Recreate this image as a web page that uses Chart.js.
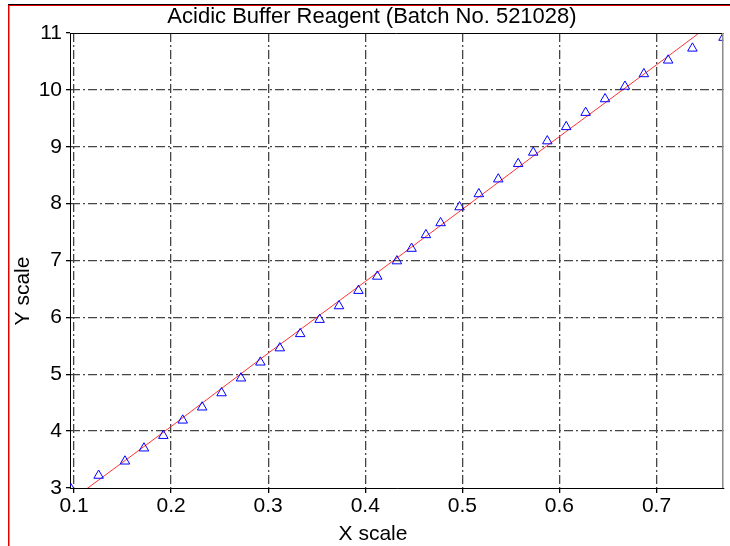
<!DOCTYPE html>
<html>
<head>
<meta charset="utf-8">
<script src="https://cdn.jsdelivr.net/npm/chart.js@4.4.1/dist/chart.umd.min.js"></script>
<style>
  html, body { margin: 0; padding: 0; background: #fff; }
  canvas { display: block; }
</style>
</head>
<body>
<canvas id="chart" width="730" height="546"></canvas>
<script>
// measured points (triangles)
const measX = [0.097, 0.1254, 0.1525, 0.1721, 0.192, 0.212, 0.232, 0.252, 0.272, 0.292, 0.312, 0.333,
    0.353, 0.373, 0.393, 0.4124, 0.4326, 0.4477, 0.4625, 0.4776, 0.4971, 0.517, 0.537, 0.5575,
    0.573, 0.5875, 0.607, 0.627, 0.647, 0.6675, 0.687, 0.712, 0.737, 0.769];
const measY = [2.98, 3.22, 3.47, 3.70, 3.92, 4.19, 4.42, 4.67, 4.93, 5.21, 5.46, 5.71,
    5.96, 6.20, 6.47, 6.72, 6.99, 7.21, 7.45, 7.66, 7.94, 8.17, 8.43, 8.70,
    8.90, 9.10, 9.35, 9.60, 9.84, 10.06, 10.28, 10.52, 10.73, 10.92];

// fitted curve (red line)
const fitX = [0.096, 0.2, 0.3, 0.4, 0.5, 0.6, 0.7, 0.769];
const fitY = [2.77, 4.08, 5.37, 6.63, 7.90, 9.18, 10.44, 11.32];

// tick labels
const xTicks = [0.1, 0.2, 0.3, 0.4, 0.5, 0.6, 0.7];
const yTicks = [3, 4, 5, 6, 7, 8, 9, 10, 11];

const titleText = 'Acidic Buffer Reagent (Batch No. 521028)';
const xTitle = 'X scale';
const yTitle = 'Y scale';

const FONT = '"Liberation Sans", Arial, sans-serif';

// frame, plot box and titles
const decorPlugin = {
    id: 'decor',
    afterDraw(chart) {
        const ctx = chart.ctx;
        const a = chart.chartArea;
        ctx.save();
        // outer frame
        ctx.lineWidth = 1;
        ctx.strokeStyle = '#000';
        ctx.beginPath(); ctx.moveTo(8, 4.5); ctx.lineTo(730, 4.5); ctx.stroke();
        ctx.strokeStyle = '#e00000';
        ctx.beginPath(); ctx.moveTo(8, 5.5); ctx.lineTo(730, 5.5); ctx.stroke();
        ctx.lineWidth = 1.5;
        ctx.beginPath(); ctx.moveTo(8.75, 5); ctx.lineTo(8.75, 546); ctx.stroke();
        // plot box top and right
        ctx.lineWidth = 1;
        ctx.strokeStyle = '#000';
        ctx.beginPath(); ctx.moveTo(a.left, a.top + 0.5); ctx.lineTo(a.right, a.top + 0.5); ctx.stroke();
        ctx.strokeStyle = '#8a8a8a';
        ctx.lineWidth = 1.5;
        ctx.beginPath(); ctx.moveTo(a.right - 0.75, a.top); ctx.lineTo(a.right - 0.75, a.bottom); ctx.stroke();
        // texts
        ctx.fillStyle = '#000';
        ctx.textAlign = 'center';
        ctx.textBaseline = 'middle';
        ctx.font = '22px ' + FONT;
        ctx.fillText(titleText, 372, 17);
        ctx.font = '21px ' + FONT;
        ctx.fillText(xTitle, 373, 534);
        ctx.translate(23, 291);
        ctx.rotate(-Math.PI / 2);
        ctx.fillText(yTitle, 0, 0);
        ctx.restore();
    }
};

const ctx = document.getElementById('chart').getContext('2d');
new Chart(ctx, {
    type: 'scatter',
    data: {
        datasets: [
            {
                label: 'Measured',
                data: measX.map((x, i) => ({ x: x, y: measY[i] })),
                pointStyle: 'triangle',
                pointRadius: 5.5,
                pointBorderColor: '#0000ff',
                pointBackgroundColor: 'rgba(0,0,0,0)',
                pointBorderWidth: 1,
                showLine: false
            },
            {
                label: 'Fit',
                data: fitX.map((x, i) => ({ x: x, y: fitY[i] })),
                showLine: true,
                borderColor: 'rgb(255,50,50)',
                borderWidth: 1,
                pointRadius: 0,
                tension: 0
            }
        ]
    },
    options: {
        responsive: false,
        animation: false,
        devicePixelRatio: 1,
        layout: { padding: { left: 0, right: 6, top: 33, bottom: 0 } },
        plugins: {
            legend: { display: false },
            title: { display: false },
            tooltip: { enabled: false }
        },
        scales: {
            x: {
                type: 'linear',
                min: 0.0959,
                max: 0.769,
                afterBuildTicks: scale => { scale.ticks = xTicks.map(v => ({ value: v })); },
                afterFit: scale => { scale.height = 58; },
                ticks: {
                    font: { family: FONT, size: 21 },
                    color: '#000',
                    padding: 1,
                    maxRotation: 0,
                    callback: v => v.toFixed(1)
                },
                grid: {
                    color: '#454545',
                    lineWidth: 1.3,
                    tickColor: '#000',
                    tickLength: 5
                },
                border: { color: '#000', width: 1, dash: [9, 3, 2, 3] }
            },
            y: {
                type: 'linear',
                min: 3,
                max: 11,
                afterBuildTicks: scale => { scale.ticks = yTicks.map(v => ({ value: v })); },
                afterFit: scale => { scale.width = 70; },
                ticks: {
                    font: { family: FONT, size: 21 },
                    color: '#000',
                    padding: 4,
                    callback: v => String(v)
                },
                grid: {
                    color: c => (c.tick && (c.tick.value === 3 || c.tick.value === 11)) ? 'rgba(0,0,0,0)' : '#454545',
                    lineWidth: 1.3,
                    tickColor: '#000',
                    tickLength: 4
                },
                border: { color: '#000', width: 1, dash: [9, 3, 2, 3] }
            }
        }
    },
    plugins: [decorPlugin]
});
</script>
</body>
</html>
